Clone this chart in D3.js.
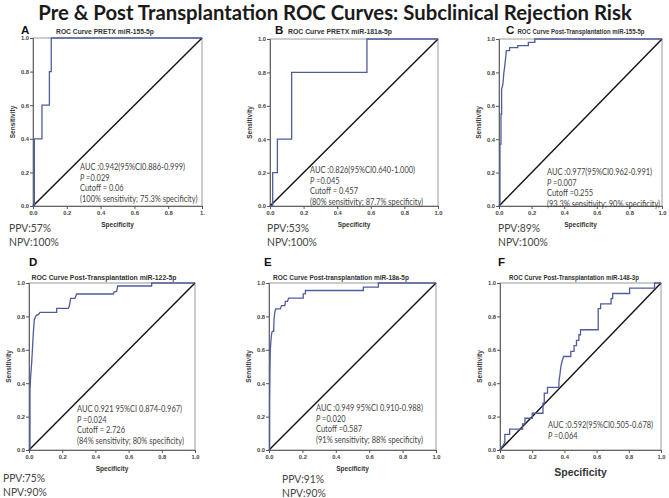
<!DOCTYPE html>
<html><head><meta charset="utf-8">
<script src="https://cdn.jsdelivr.net/npm/d3@7"></script>
<style>
html,body{margin:0;padding:0;background:#fff;}
svg{display:block;}
</style></head>
<body>
<svg id="chart" width="669" height="498"></svg>
<script>
// ---------- DATA ----------
const mainTitle = "Pre & Post Transplantation ROC Curves: Subclinical Rejection Risk";
const panelLetters = ["A","B","C","D","E","F"];
const panelTitles = [
  "ROC Curve PRETX miR-155-5p",
  "ROC Curve PRETX miR-181a-5p",
  "ROC Curve Post-Transplantation miR-155-5p",
  "ROC Curve Post-Transplantation miR-122-5p",
  "ROC Curve Post-transplantation miR-18a-5p",
  "ROC Curve Post-Transplantation miR-148-3p"
];
const tickValues = [0, 0.2, 0.4, 0.6, 0.8, 1.0];
const yTickLabels = ["0.0","0.2","0.4","0.6","0.8","1.0"];
const xTickLabelsA = ["0.0","0.2","0.4","0.6","0.8","1."];
const xTickLabels = ["0.0","0.2","0.4","0.6","0.8","1.0"];
const xAxisLabel = "Specificity";
const yAxisLabel = "Sensitivity";

// ROC curve points [1-specificity, sensitivity]
const rocA = [[0,0],[0.008,0],[0.008,0.4],[0.053,0.4],[0.053,0.6],[0.097,0.6],[0.097,0.8],[0.108,0.8],[0.108,1.0],[1,1]];
const rocB = [[0,0],[0.016,0],[0.016,0.2],[0.044,0.2],[0.044,0.4],[0.129,0.4],[0.129,0.8],[0.577,0.8],[0.577,1.0],[1,1]];
const rocC = [[0,0],[0.006,0],[0.006,0.37],[0.012,0.37],[0.012,0.55],[0.016,0.55],[0.016,0.7],[0.022,0.72],[0.025,0.74],[0.03,0.8],[0.033,0.82],[0.04,0.88],[0.045,0.93],[0.065,0.93],[0.065,0.948],[0.115,0.948],[0.115,0.96],[0.18,0.96],[0.18,0.98],[0.22,0.98],[0.22,1],[1,1]];
const rocD = [[0,0],[0.006,0],[0.006,0.36],[0.01,0.44],[0.016,0.52],[0.02,0.59],[0.026,0.7],[0.032,0.78],[0.04,0.8],[0.05,0.81],[0.056,0.81],[0.066,0.824],[0.167,0.824],[0.167,0.848],[0.237,0.848],[0.243,0.862],[0.251,0.908],[0.277,0.908],[0.287,0.934],[0.508,0.934],[0.514,0.948],[0.528,0.948],[0.534,0.982],[0.739,0.982],[0.739,1],[1,1]];
const rocE = [[0,0],[0.004,0],[0.004,0.27],[0.006,0.5],[0.008,0.6],[0.012,0.66],[0.016,0.7],[0.02,0.71],[0.028,0.71],[0.03,0.78],[0.034,0.82],[0.04,0.845],[0.068,0.845],[0.075,0.865],[0.095,0.865],[0.098,0.89],[0.11,0.89],[0.118,0.91],[0.205,0.91],[0.205,0.935],[0.218,0.935],[0.218,0.955],[0.565,0.955],[0.565,0.975],[0.655,0.975],[0.655,1],[1,1]];
const rocF = [[0,0],[0.012,0.02],[0.02,0.03],[0.03,0.045],[0.03,0.094],[0.06,0.094],[0.06,0.125],[0.14,0.125],[0.14,0.156],[0.155,0.156],[0.155,0.19],[0.2,0.19],[0.2,0.22],[0.267,0.22],[0.267,0.28],[0.275,0.28],[0.275,0.34],[0.295,0.34],[0.295,0.375],[0.366,0.375],[0.366,0.41],[0.372,0.45],[0.378,0.5],[0.385,0.53],[0.395,0.56],[0.44,0.56],[0.44,0.59],[0.46,0.59],[0.46,0.625],[0.475,0.625],[0.475,0.656],[0.49,0.656],[0.49,0.69],[0.5,0.69],[0.5,0.72],[0.61,0.72],[0.61,0.846],[0.625,0.846],[0.625,0.875],[0.69,0.875],[0.69,0.906],[0.7,0.906],[0.7,0.937],[0.805,0.937],[0.805,0.969],[0.96,0.969],[0.96,1],[1,1]];
const diagonal = [[0,0],[1,1]];

const annotA = ["AUC :0.942(95%CI0.886-0.999)", "P =0.029", "Cutoff = 0.06", "(100% sensitivity; 75.3% specificity)"];
const annotB = ["AUC :0.826(95%CI0.640-1.000)", "P =0.045", "Cutoff = 0.457", "(80% sensitivity; 87.7% specificity)"];
const annotC = ["AUC :0.977(95%CI0.962-0.991)", "P =0.007", "Cutoff =0.255", "(93.3% sensitivity; 90% specificity)"];
const annotD = ["AUC 0.921 95%CI 0.874-0.967)", "P =0.024", "Cutoff = 2.726", "(84% sensitivity; 80% specificity)"];
const annotE = ["AUC :0.949 95%CI 0.910-0.988)", "P =0.020", "Cutoff =0.587", "(91% sensitivity; 88% specificity)"];
const annotF = ["AUC :0.592(95%CI0.505-0.678)", "P =0.064"];

const ppvA = ["PPV:57%", "NPV:100%"];
const ppvB = ["PPV:53%", "NPV:100%"];
const ppvC = ["PPV:89%", "NPV:100%"];
const ppvD = ["PPV:75%", "NPV:90%"];
const ppvE = ["PPV:91%", "NPV:90%"];

// ---------- LAYOUT ----------
const layout = [
  {roc: rocA, annot: annotA, ppv: ppvA, xt: xTickLabelsA, box: [33, 38, 202, 206], letter: [21, 34], title: [105, 34], titleW: 98, ann: [80, 170], ppvPos: [9, 232]},
  {roc: rocB, annot: annotB, ppv: ppvB, xt: xTickLabels, box: [270, 39, 438, 206], letter: [275, 34], title: [340, 34], titleW: 104, ann: [310, 173], ppvPos: [267, 232]},
  {roc: rocC, annot: annotC, ppv: ppvC, xt: xTickLabels, box: [499, 39, 662, 206], letter: [506, 34], title: [581, 34], titleW: 127, ann: [547, 175], ppvPos: [498, 232]},
  {roc: rocD, annot: annotD, ppv: ppvD, xt: xTickLabels, box: [29, 283, 195, 450], letter: [29, 266], title: [104, 280], titleW: 145, ann: [77, 412], ppvPos: [3, 482]},
  {roc: rocE, annot: annotE, ppv: ppvE, xt: xTickLabels, box: [269, 283, 436, 450], letter: [264, 266], title: [341, 280], titleW: 136, ann: [316, 411], ppvPos: [282, 483]},
  {roc: rocF, annot: annotF, ppv: null, xt: xTickLabels, box: [500, 283, 661, 450], letter: [498, 266], title: [574, 280], titleW: 130, ann: [548, 428], ppvPos: null, bigX: true}
];

const svg = d3.select("#chart");
svg.append("rect").attr("width", 669).attr("height", 498).attr("fill", "#fff");

// main title
const tt = svg.append("text")
  .attr("x", 335).attr("y", 20)
  .attr("text-anchor", "middle")
  .attr("font-family", "Lato, 'Open Sans', sans-serif")
  .attr("font-weight", "bold")
  .attr("font-size", 20)
  .attr("fill", "#1a1a1a")
  .text(mainTitle);
const tl = tt.node().getComputedTextLength();
tt.attr("font-size", 20 * 594 / tl);

const curveColor = "#4f5c9e";
const sans = "'Liberation Sans', Arial, sans-serif";
const annFont = "Lato, 'Open Sans', sans-serif";
const narrow = 0.86;

layout.forEach((p, i) => {
  const [x0, y0, x1, y1] = p.box;
  const x = d3.scaleLinear().domain([0, 1]).range([x0, x1]);
  const y = d3.scaleLinear().domain([0, 1]).range([y1, y0]);
  const g = svg.append("g");

  // letter
  g.append("text").attr("x", p.letter[0]).attr("y", p.letter[1])
    .attr("font-family", sans).attr("font-weight", "bold").attr("font-size", 11.5)
    .attr("fill", "#111").text(panelLetters[i]);
  // panel title, condensed horizontally to the reference width
  const st = g.append("text")
    .attr("text-anchor", "middle")
    .attr("font-family", sans).attr("font-weight", "bold").attr("font-size", 7.4)
    .attr("fill", "#333").text(panelTitles[i]);
  const sw = st.node().getComputedTextLength();
  st.attr("transform", `translate(${p.title[0]},${p.title[1]}) scale(${Math.min(1, p.titleW / sw)},1)`);

  // plot frame
  g.append("rect").attr("x", x0).attr("y", y0).attr("width", x1 - x0).attr("height", y1 - y0)
    .attr("fill", "none").attr("stroke", "#9a9a9a").attr("stroke-width", 1);

  // axes
  const xAxis = d3.axisBottom(x).tickValues(tickValues).tickSize(3).tickPadding(2)
    .tickFormat((d, k) => p.xt[k]);
  const yAxis = d3.axisLeft(y).tickValues(tickValues).tickSize(3).tickPadding(1)
    .tickFormat((d, k) => yTickLabels[k]);
  const gx = g.append("g").attr("transform", `translate(0,${y1})`).call(xAxis);
  const gy = g.append("g").attr("transform", `translate(${x0},0)`).call(yAxis);
  [gx, gy].forEach(a => {
    a.select(".domain").attr("stroke", "#666");
    a.selectAll(".tick line").attr("stroke", "#555");
    a.selectAll("text").attr("font-family", sans).attr("font-weight", "bold")
      .attr("font-size", 5.8).attr("fill", "#444");
  });

  // axis labels
  g.append("text")
    .attr("x", (x0 + x1) / 2).attr("y", p.bigX ? y1 + 26 : y1 + 21)
    .attr("text-anchor", "middle")
    .attr("font-family", sans).attr("font-weight", "bold")
    .attr("font-size", p.bigX ? 10.5 : 6.5).attr("fill", "#333")
    .text(xAxisLabel);
  g.append("text")
    .attr("transform", `translate(${x0 - 18},${(y0 + y1) / 2}) rotate(-90)`)
    .attr("text-anchor", "middle")
    .attr("font-family", sans).attr("font-weight", "bold")
    .attr("font-size", 6.5).attr("fill", "#333")
    .text(yAxisLabel);

  const line = d3.line().x(d => x(d[0])).y(d => y(d[1]));
  // diagonal reference
  g.append("path").datum(diagonal).attr("d", line)
    .attr("fill", "none").attr("stroke", "#111").attr("stroke-width", 1.4);
  // ROC curve
  g.append("path").datum(p.roc).attr("d", line)
    .attr("fill", "none").attr("stroke", curveColor).attr("stroke-width", 1.3);

  // annotation (narrow, Calibri-like)
  p.annot.forEach((t, k) => {
    const tx = g.append("text")
      .attr("transform", `translate(${p.ann[0]},${p.ann[1] + k * 10.5}) scale(${narrow},1)`)
      .attr("font-family", annFont).attr("font-size", 8.7).attr("fill", "#444");
    if (t.startsWith("P ")) {
      tx.append("tspan").attr("font-style", "italic").text("P");
      tx.append("tspan").text(t.slice(1));
    } else tx.text(t);
  });

  // PPV / NPV
  if (p.ppv) {
    p.ppv.forEach((t, k) => {
      g.append("text")
        .attr("transform", `translate(${p.ppvPos[0]},${p.ppvPos[1] + k * 14}) scale(0.9,1)`)
        .attr("font-family", annFont).attr("font-size", 11.5).attr("fill", "#444")
        .text(t);
    });
  }
});
</script>
</body></html>
